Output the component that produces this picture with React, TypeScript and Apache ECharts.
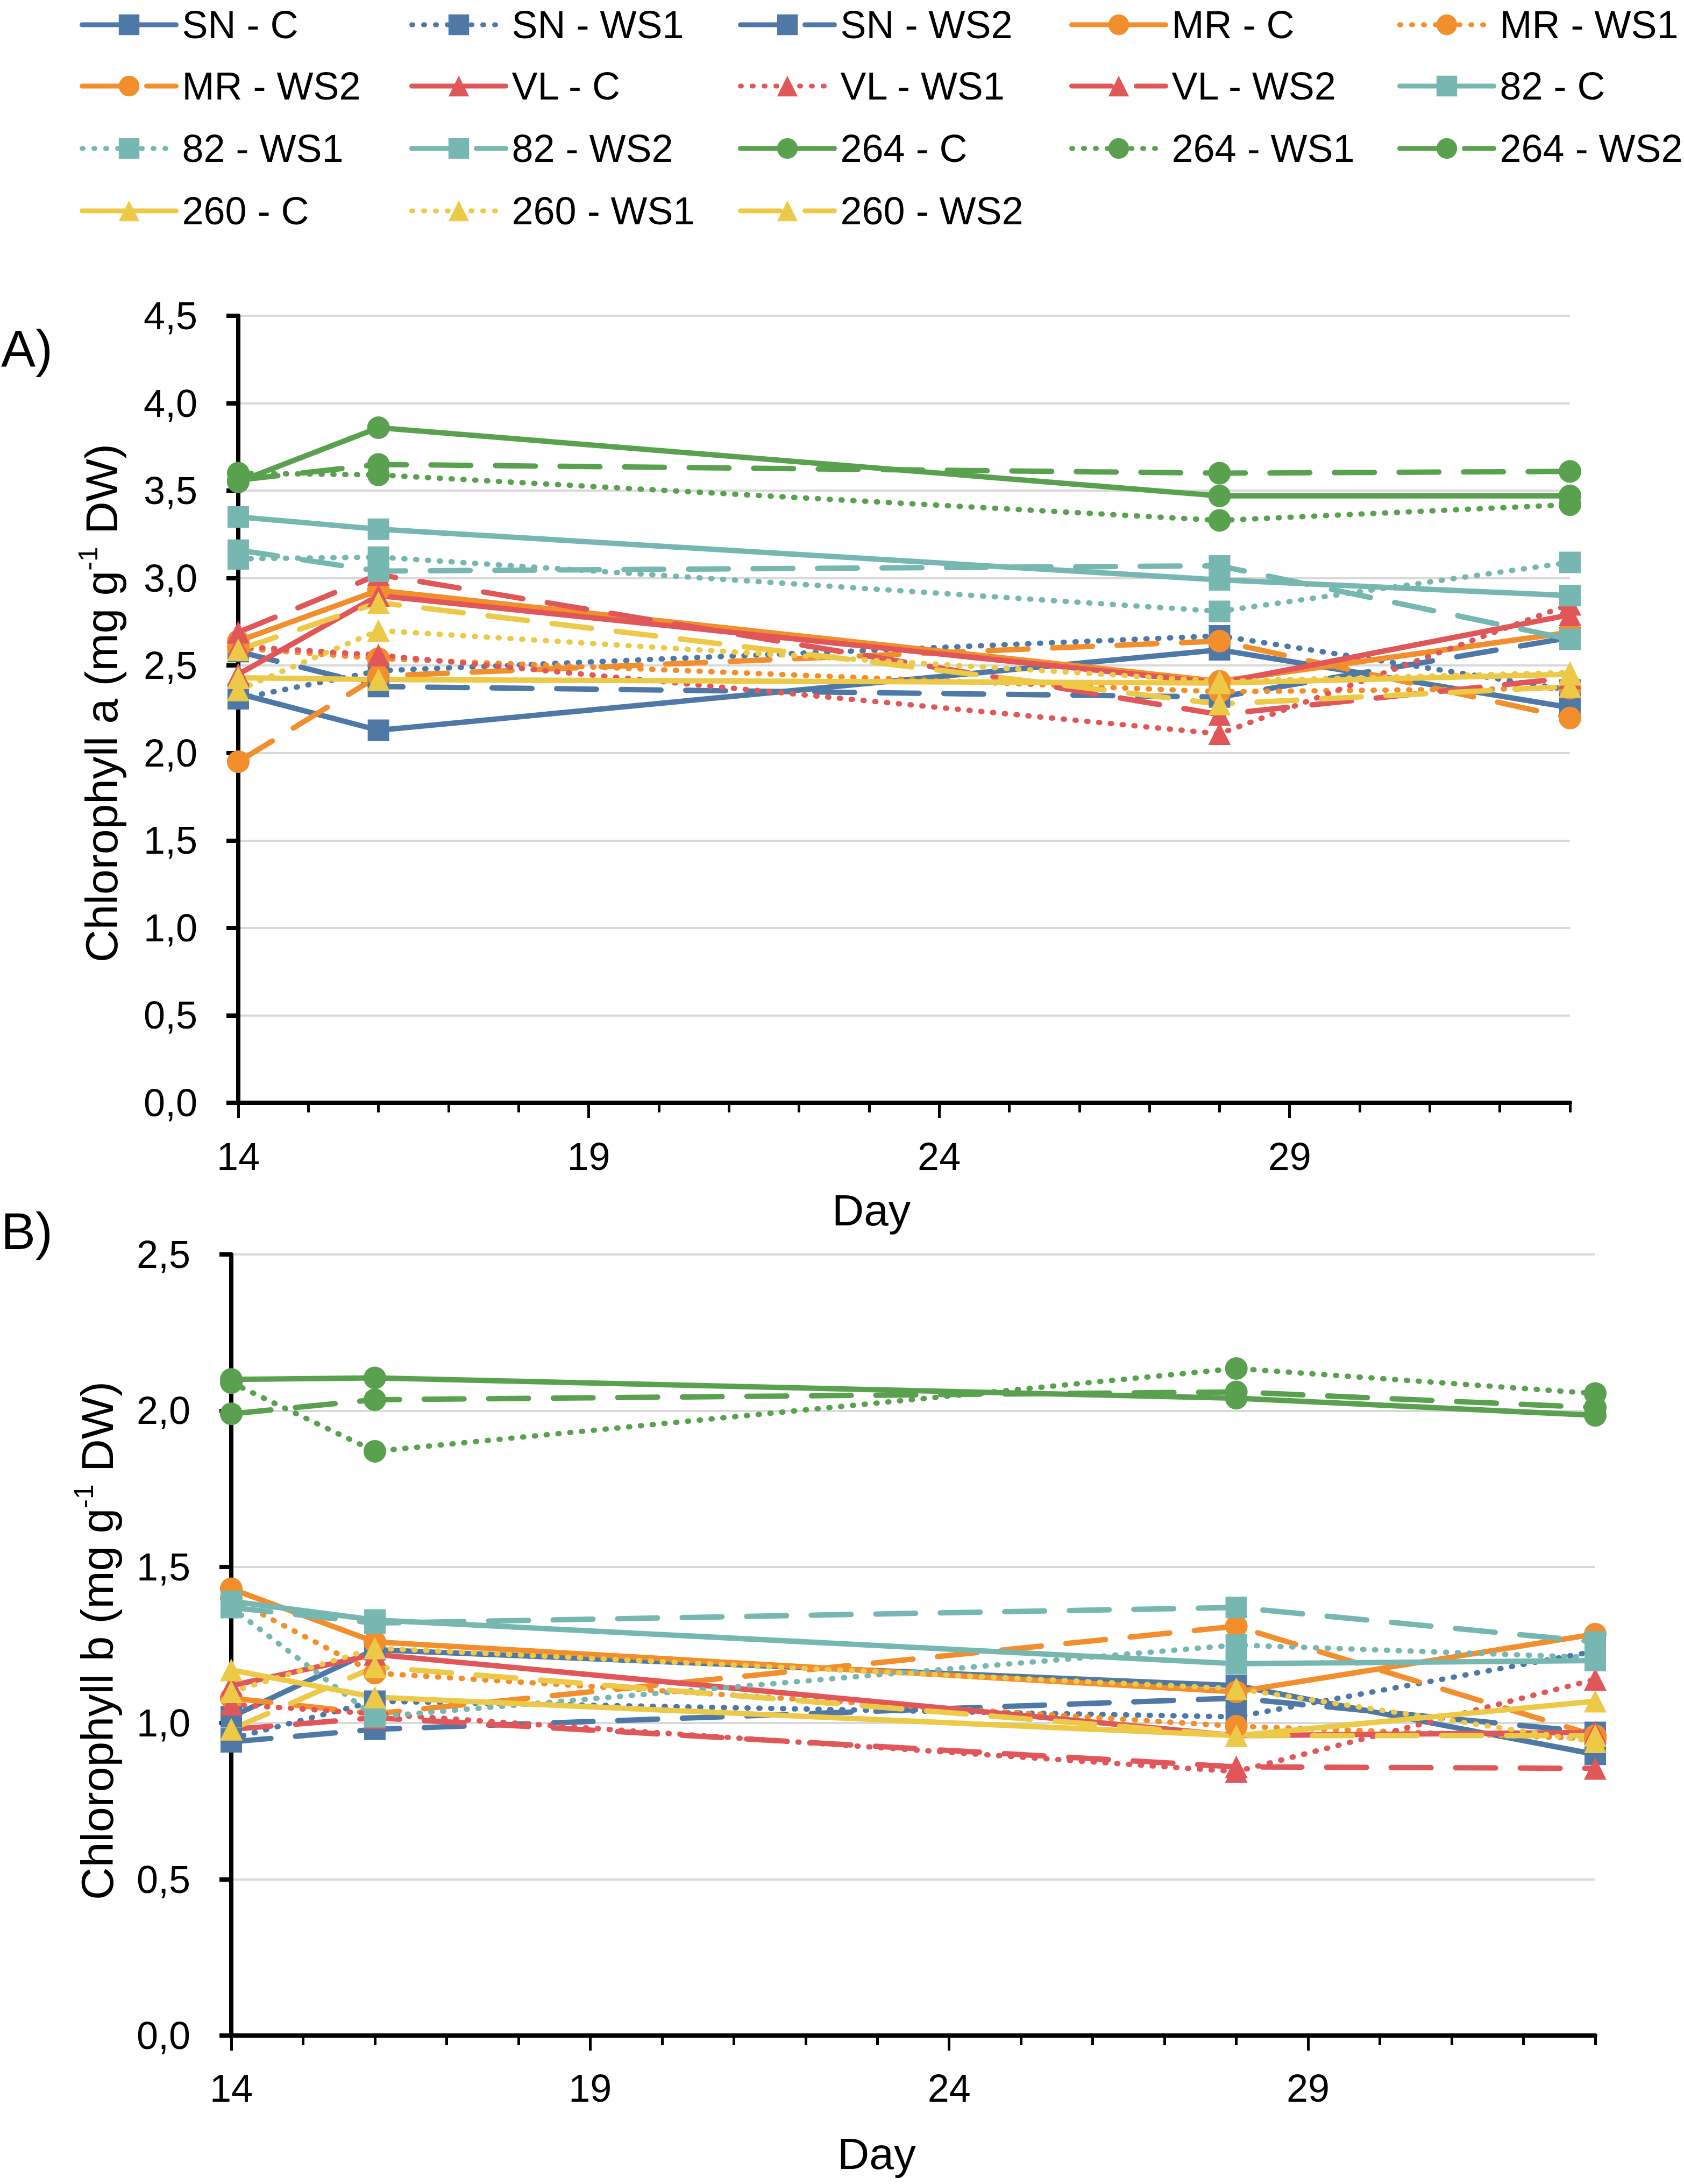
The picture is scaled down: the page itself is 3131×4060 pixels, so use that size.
import React, { useEffect, useRef } from "react";
import * as echarts from "echarts";

// ---------- DATA ----------
const days = [14, 16, 28, 33];
const genotypes = ["SN", "MR", "VL", "82", "264", "260"];
const treatments = ["C", "WS1", "WS2"];
const xMajorTicks = [14, 19, 24, 29];

// Chlorophyll a (mg g-1 DW)
const chlA_SN_C = [2.34, 2.13, 2.59, 2.26];
const chlA_SN_WS1 = [2.31, 2.47, 2.67, 2.36];
const chlA_SN_WS2 = [2.58, 2.38, 2.32, 2.66];
const chlA_MR_C = [2.64, 2.93, 2.41, 2.69];
const chlA_MR_WS1 = [2.6, 2.54, 2.35, 2.37];
const chlA_MR_WS2 = [1.95, 2.44, 2.64, 2.2];
const chlA_VL_C = [2.45, 2.9, 2.4, 2.79];
const chlA_VL_WS1 = [2.61, 2.56, 2.11, 2.85];
const chlA_VL_WS2 = [2.69, 3.02, 2.22, 2.43];
const chlA_82_C = [3.35, 3.28, 2.99, 2.9];
const chlA_82_WS1 = [3.11, 3.12, 2.81, 3.09];
const chlA_82_WS2 = [3.16, 3.04, 3.07, 2.65];
const chlA_264_C = [3.55, 3.86, 3.47, 3.47];
const chlA_264_WS1 = [3.6, 3.59, 3.33, 3.42];
const chlA_264_WS2 = [3.56, 3.65, 3.6, 3.61];
const chlA_260_C = [2.43, 2.42, 2.4, 2.45];
const chlA_260_WS1 = [2.36, 2.7, 2.41, 2.46];
const chlA_260_WS2 = [2.59, 2.86, 2.28, 2.38];

// Chlorophyll b (mg g-1 DW)
const chlB_SN_C = [1.02, 1.235, 1.12, 0.9];
const chlB_SN_WS1 = [0.95, 1.07, 1.02, 1.23];
const chlB_SN_WS2 = [0.94, 0.98, 1.08, 0.97];
const chlB_MR_C = [1.43, 1.26, 1.1, 1.285];
const chlB_MR_WS1 = [1.4, 1.16, 0.99, 0.95];
const chlB_MR_WS2 = [1.08, 1.03, 1.31, 0.96];
const chlB_VL_C = [1.12, 1.22, 0.96, 0.97];
const chlB_VL_WS1 = [1.06, 1.03, 0.845, 1.14];
const chlB_VL_WS2 = [0.98, 1.017, 0.86, 0.855];
const chlB_82_C = [1.39, 1.33, 1.19, 1.2];
const chlB_82_WS1 = [1.37, 1.02, 1.25, 1.21];
const chlB_82_WS2 = [1.37, 1.32, 1.37, 1.26];
const chlB_264_C = [2.1, 2.105, 2.04, 1.985];
const chlB_264_WS1 = [2.09, 1.87, 2.135, 2.055];
const chlB_264_WS2 = [1.99, 2.035, 2.06, 2.01];
const chlB_260_C = [1.17, 1.083, 0.96, 1.07];
const chlB_260_WS1 = [1.1, 1.24, 1.11, 0.94];
const chlB_260_WS2 = [0.98, 1.18, 0.96, 0.96];

const chlASeries: Record<string, number[]> = {
  "SN - C": chlA_SN_C, "SN - WS1": chlA_SN_WS1, "SN - WS2": chlA_SN_WS2,
  "MR - C": chlA_MR_C, "MR - WS1": chlA_MR_WS1, "MR - WS2": chlA_MR_WS2,
  "VL - C": chlA_VL_C, "VL - WS1": chlA_VL_WS1, "VL - WS2": chlA_VL_WS2,
  "82 - C": chlA_82_C, "82 - WS1": chlA_82_WS1, "82 - WS2": chlA_82_WS2,
  "264 - C": chlA_264_C, "264 - WS1": chlA_264_WS1, "264 - WS2": chlA_264_WS2,
  "260 - C": chlA_260_C, "260 - WS1": chlA_260_WS1, "260 - WS2": chlA_260_WS2,
};
const chlBSeries: Record<string, number[]> = {
  "SN - C": chlB_SN_C, "SN - WS1": chlB_SN_WS1, "SN - WS2": chlB_SN_WS2,
  "MR - C": chlB_MR_C, "MR - WS1": chlB_MR_WS1, "MR - WS2": chlB_MR_WS2,
  "VL - C": chlB_VL_C, "VL - WS1": chlB_VL_WS1, "VL - WS2": chlB_VL_WS2,
  "82 - C": chlB_82_C, "82 - WS1": chlB_82_WS1, "82 - WS2": chlB_82_WS2,
  "264 - C": chlB_264_C, "264 - WS1": chlB_264_WS1, "264 - WS2": chlB_264_WS2,
  "260 - C": chlB_260_C, "260 - WS1": chlB_260_WS1, "260 - WS2": chlB_260_WS2,
};

// ---------- STYLE ----------
const FONT = "Liberation Sans";
const LINE_W = 10;
const COLORS: Record<string, string> = {
  SN: "#4E79A7", MR: "#F28E2B", VL: "#E15759", "82": "#76B7B2", "264": "#59A14F", "260": "#EDC948",
};
const SYMBOLS: Record<string, string> = {
  SN: "rect", MR: "circle", VL: "triangle", "82": "rect", "264": "circle", "260": "triangle",
};
const SYMBOL_SIZE: Record<string, number> = { rect: 40, circle: 42, triangle: 42 };
const DASH: Record<string, any> = { C: "solid", WS1: [2, 20], WS2: [74, 46] };

const seriesNames = genotypes.flatMap((g) => treatments.map((t) => `${g} - ${t}`));

const legendColX = [148, 761, 1372, 1988, 2598];
const legendRowY = [34, 148, 264, 380];

function makeSeries(name: string, values: number[], grid: number) {
  const [g, t] = name.split(" - ");
  const sym = SYMBOLS[g];
  return {
    type: "line",
    name,
    xAxisIndex: grid * 2,
    yAxisIndex: grid,
    data: days.map((d, i) => [d, values[i]]),
    symbol: sym,
    symbolSize: SYMBOL_SIZE[sym],
    showAllSymbol: true,
    itemStyle: { color: COLORS[g], borderWidth: 0 },
    lineStyle: { color: COLORS[g], width: LINE_W, type: DASH[t], cap: "round", join: "round" },
    emphasis: { disabled: true },
    silent: true,
  };
}

function xAxes(grid: number, labelMargin: number) {
  return [
    {
      type: "value", gridIndex: grid, position: "bottom", min: 14, max: 33, interval: 1,
      axisLine: { show: true, onZero: false, lineStyle: { color: "#000", width: 8 } },
      axisTick: { show: true, length: 18, lineStyle: { color: "#000", width: 5 } },
      axisLabel: { show: false },
      splitLine: { show: false },
    },
    {
      type: "value", gridIndex: grid, position: "bottom", min: 14, max: 33, interval: 5,
      axisLine: { show: false, onZero: false },
      axisTick: { show: true, length: 28, customValues: xMajorTicks, lineStyle: { color: "#000", width: 5 } },
      axisLabel: {
        show: true, customValues: xMajorTicks,
        formatter: (v: number) => (v === 33 ? "" : String(v)),
        fontSize: 72, fontFamily: FONT, color: "#000", margin: labelMargin,
      },
      splitLine: { show: false },
    },
  ];
}

function yAxis(grid: number, max: number) {
  return {
    type: "value", gridIndex: grid, min: 0, max, interval: 0.5,
    axisLine: { show: true, lineStyle: { color: "#000", width: 8 } },
    axisTick: { show: true, length: 22, lineStyle: { color: "#000", width: 8 } },
    axisLabel: {
      formatter: (v: number) => v.toFixed(1).replace(".", ","),
      fontSize: 72, fontFamily: FONT, color: "#000", margin: 76,
    },
    splitLine: { show: true, lineStyle: { color: "#D9D9D9", width: 4 } },
  };
}

function yTitle(letter: string, x: number, y: number) {
  return {
    type: "text",
    x, y,
    rotation: Math.PI / 2,
    style: {
      text: `{a|Chlorophyll ${letter} (mg g}{s|-1}{a| DW)}`,
      rich: {
        a: { fontSize: 84, fontFamily: FONT, fill: "#000", lineHeight: 100, verticalAlign: "middle" },
        s: { fontSize: 50, fontFamily: FONT, fill: "#000", lineHeight: 100, verticalAlign: "top" },
      },
      align: "center",
      verticalAlign: "middle",
      fill: "#000",
    },
  };
}

function plainText(text: string, x: number, y: number, size: number, align = "center") {
  return {
    type: "text", x, y,
    style: { text, fontSize: size, fontFamily: FONT, fill: "#000", align, verticalAlign: "middle" },
  };
}

export default function App() {
  const ref = useRef<HTMLDivElement>(null);
  useEffect(() => {
    if (!ref.current) return;
    const chart = echarts.init(ref.current, null as any, { renderer: "svg" });
    const series: any[] = [];
    seriesNames.forEach((n) => series.push(makeSeries(n, chlASeries[n], 0)));
    seriesNames.forEach((n) => series.push(makeSeries(n, chlBSeries[n], 1)));

    const legends = seriesNames.map((n, i) => {
      const [g, t] = n.split(" - ");
      return {
        data: [n],
        left: legendColX[i % 5],
        top: legendRowY[Math.floor(i / 5)] - 24,
        orient: "horizontal",
        padding: 0,
        itemWidth: 175,
        itemHeight: 48,
        selectedMode: false,
        lineStyle: { color: COLORS[g], width: 9, type: DASH[t], cap: "round" },
        textStyle: { fontSize: 72, fontFamily: FONT, color: "#000", padding: [0, 0, 0, 6] },
      };
    });

    chart.setOption({
      animation: false,
      backgroundColor: "#fff",
      textStyle: { fontFamily: FONT },
      legend: legends,
      grid: [
        { left: 443, top: 587, width: 2476, height: 1463 },
        { left: 430, top: 2332, width: 2536, height: 1452 },
      ],
      xAxis: [...xAxes(0, 64), ...xAxes(1, 62)],
      yAxis: [yAxis(0, 4.5), yAxis(1, 2.5)],
      series,
      graphic: [
        plainText("A)", 2, 647, 96, "left"),
        plainText("B)", 2, 2288, 96, "left"),
        plainText("Day", 1620, 2249, 82),
        plainText("Day", 1630, 4003, 82),
        yTitle("a", 189, 1307),
        yTitle("b", 181, 3050),
      ],
    });
    return () => chart.dispose();
  }, []);
  return (
    <div
      ref={ref}
      style={{ position: "absolute", left: 0, top: 0, width: 3131, height: 4060, background: "#fff" }}
    />
  );
}
